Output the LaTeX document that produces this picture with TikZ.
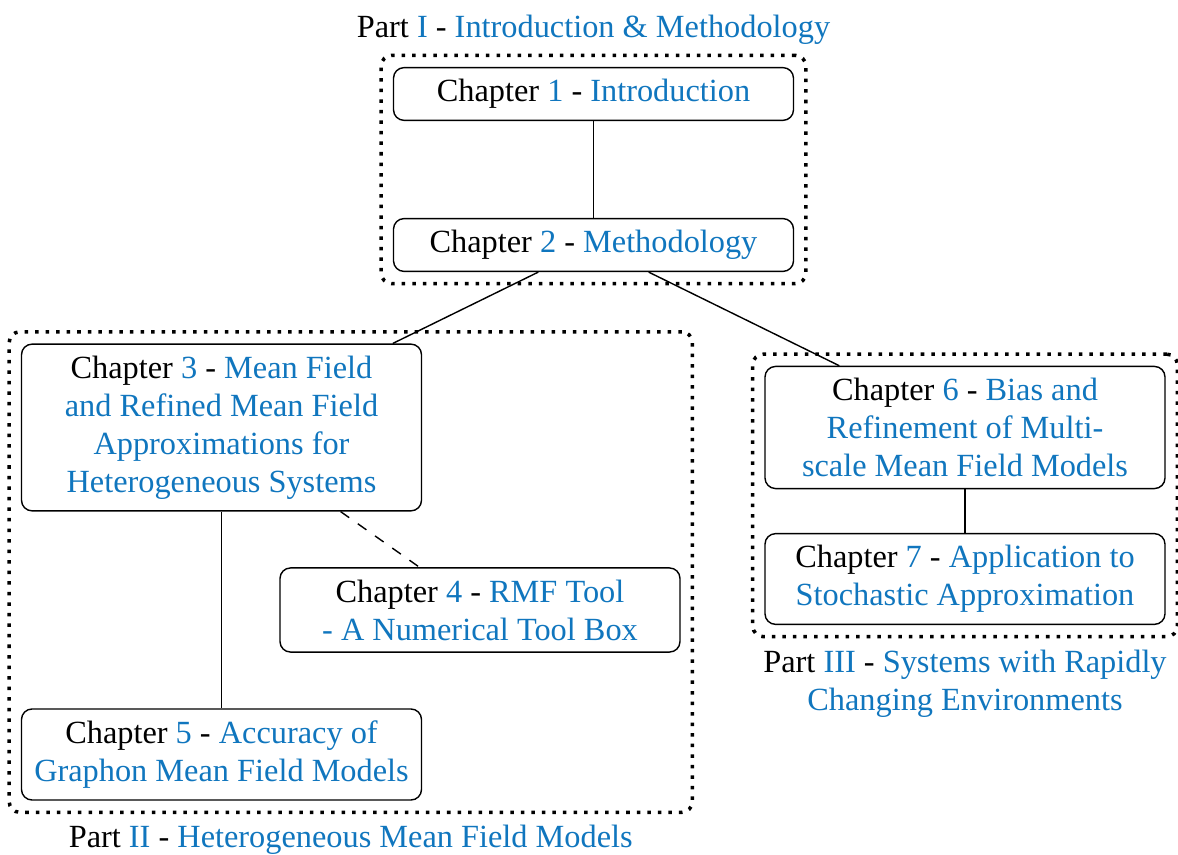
\documentclass[tikz,border=0pt]{standalone}
\usepackage{fontspec}
\setmainfont{Liberation Serif}
\usetikzlibrary{fit}

\definecolor{linkblue}{RGB}{16,118,190}
\newcommand{\chaplabel}[1]{\textcolor{black}{Chapter} #1 \textcolor{black}{-}}
\newcommand{\partlabel}[1]{\textcolor{black}{Part} #1 \textcolor{black}{-}}

\tikzset{
	chapbox/.style={draw, rounded corners=3pt, minimum width=4cm, align=center, text=linkblue},
	partbox/.style={draw, dotted, line width=1pt, rounded corners=3pt, inner sep=3.3pt},
	parttitle/.style={align=center, text=linkblue, inner sep=1pt}
}

\begin{document}
\begin{tikzpicture}[font=\fontsize{9.2pt}{10.8pt}\selectfont]
	\useasboundingbox (0,0) rectangle (11.78,-8.55);

	% chapters
	\node[chapbox] (ch1) at (5.935,-0.94) {\chaplabel{1} Introduction};
	\node[chapbox] (ch2) at (5.935,-2.45) {\chaplabel{2} Methodology};
	\node[chapbox] (ch3) at (2.215,-4.275) {\chaplabel{3} Mean Field\\and Refined Mean Field\\Approximations for\\Heterogeneous Systems};
	\node[chapbox] (ch4) at (4.80,-6.10) {\chaplabel{4} RMF Tool\\- A Numerical Tool Box};
	\node[chapbox] (ch5) at (2.215,-7.545) {\chaplabel{5} Accuracy of\\Graphon Mean Field Models};
	\node[chapbox] (ch6) at (9.65,-4.275) {\chaplabel{6} Bias and\\Refinement of Multi-\\scale Mean Field Models};
	\node[chapbox] (ch7) at (9.65,-5.79) {\chaplabel{7} Application to\\Stochastic Approximation};

	% parts
	\node[partbox, fit=(ch1)(ch2)] (part1) {};
	\node[partbox, fit=(ch3)(ch4)(ch5)] (part2) {};
	\node[partbox, fit=(ch6)(ch7)] (part3) {};
	\node[parttitle, above=1.3pt] (title1) at (part1.north) {\partlabel{I} Introduction \& Methodology};
	\node[parttitle, below=2pt] (title2) at (part2.south) {\partlabel{II} Heterogeneous Mean Field Models};
	\node[parttitle, below=2pt] (title3) at (part3.south) {\partlabel{III} Systems with Rapidly\\Changing Environments};

	\draw (ch1) -- (ch2);
	\draw (ch2) -- (ch3);
	\draw (ch2) -- (ch6);
	\draw (ch3) -- (ch5);
	\draw[dashed] (ch3) -- (ch4);
	\draw (ch6) -- (ch7);
\end{tikzpicture}
\end{document}
